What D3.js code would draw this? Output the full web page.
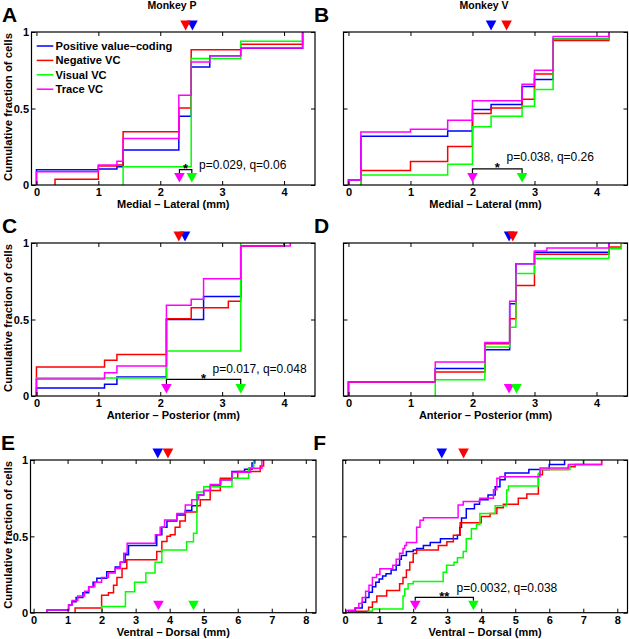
<!DOCTYPE html>
<html><head><meta charset="utf-8">
<script src="https://cdn.jsdelivr.net/npm/d3@7"></script>
<style>
body{margin:0;background:#fff}
svg text{font-family:"Liberation Sans",Arial,Helvetica,sans-serif}
</style>
</head><body>
<svg id="chart" width="629" height="639"></svg>
<script>
// ---------------- data ----------------
const seriesNames = ["Positive value\u2013coding", "Negative VC", "Visual VC", "Trace VC"];
const seriesColors = ["#0000ff", "#ff0000", "#00ff00", "#ff00ff"];

// step CDFs: [position (mm), cumulative fraction after the step]
const A_pos   = [[0,0.1],[1.0,0.105],[1.3,0.12],[1.4,0.228],[2.3,0.45],[2.5,0.772],[2.8,0.845],[3.3,0.893],[4.3,1]];
const A_neg   = [[0.3,0.037],[1.0,0.124],[1.3,0.13],[1.4,0.348],[2.3,0.504],[2.5,0.884],[3.3,0.92],[4.3,1]];
const A_vis   = [[1.4,0.12],[2.5,0.826],[3.3,0.94],[4.3,1]];
const A_trace = [[0,0.087],[1.0,0.13],[1.3,0.155],[1.4,0.304],[2.3,0.587],[2.5,0.804],[2.8,0.845],[3.3,0.896],[4.3,1]];

const B_pos   = [[0,0.033],[0.2,0.318],[1.6,0.353],[2.0,0.493],[2.3,0.526],[2.8,0.643],[3.0,0.69],[3.3,0.954],[4.2,1]];
const B_neg   = [[0.2,0.094],[1.0,0.154],[1.6,0.252],[2.0,0.467],[2.3,0.504],[2.8,0.56],[3.0,0.726],[3.3,0.945],[4.2,1]];
const B_vis   = [[0.2,0.066],[1.6,0.136],[2.0,0.38],[2.3,0.45],[2.8,0.515],[3.0,0.625],[3.3,0.954],[4.2,1]];
const B_trace = [[0,0.033],[0.2,0.346],[1.0,0.364],[1.6,0.423],[2.0,0.55],[2.8,0.658],[3.0,0.75],[3.3,0.971],[4.2,1]];

const C_pos   = [[0,0.052],[1.1,0.076],[1.3,0.124],[2.1,0.5],[2.7,0.65],[3.3,0.98],[4.0,1]];
const C_neg   = [[0,0.19],[1.1,0.233],[1.3,0.272],[2.1,0.505],[2.5,0.577],[3.1,0.62],[3.3,0.98],[4.0,1]];
const C_vis   = [[0,0.118],[2.1,0.294],[3.3,1]];
const C_trace = [[0,0.111],[1.1,0.152],[1.3,0.196],[2.1,0.593],[2.5,0.632],[2.7,0.767],[3.3,0.98],[4.1,1]];

const D_pos   = [[0,0.092],[1.4,0.179],[2.2,0.303],[2.6,0.603],[2.7,0.865],[3.0,0.94],[4.2,1]];
const D_neg   = [[0,0.092],[1.4,0.157],[2.2,0.342],[2.6,0.505],[2.7,0.723],[3.0,0.926],[4.2,0.974],[4.4,1]];
const D_vis   = [[1.4,0.107],[2.2,0.32],[2.6,0.45],[2.7,0.8],[3.0,0.898],[4.2,0.963],[4.4,1]];
const D_trace = [[0,0.092],[1.4,0.222],[2.2,0.349],[2.6,0.62],[2.7,0.865],[3.0,0.948],[3.2,0.967],[4.2,1]];

const E_pos   = [[0.39,0.018],[1.03,0.05],[1.13,0.072],[1.25,0.1],[1.45,0.13],[1.62,0.17],[1.75,0.2],[1.86,0.225],[2.15,0.268],[2.4,0.3],[2.55,0.33],[2.69,0.38],[2.79,0.44],[3.62,0.51],[3.77,0.56],[3.92,0.6],[4.21,0.64],[4.46,0.67],[4.65,0.7],[4.8,0.77],[5.0,0.8],[5.2,0.83],[5.49,0.87],[5.83,0.924],[6.2,0.94],[6.42,0.98],[6.5,1]];
const E_neg   = [[1.22,0.03],[2.0,0.115],[2.2,0.13],[2.35,0.18],[2.45,0.23],[2.6,0.29],[2.74,0.346],[3.62,0.4],[3.77,0.466],[3.92,0.5],[4.02,0.51],[4.16,0.56],[4.3,0.6],[4.46,0.66],[4.8,0.7],[4.9,0.74],[5.19,0.8],[5.49,0.88],[6.0,0.925],[6.66,0.96],[6.76,1]];
const E_vis   = [[2.0,0.04],[2.7,0.137],[2.97,0.2],[3.3,0.26],[3.57,0.33],[3.77,0.41],[4.5,0.465],[4.7,0.52],[4.8,0.79],[5.0,0.825],[5.83,0.88],[6.32,0.95],[6.47,1]];
const E_trace = [[0.39,0.018],[1.03,0.05],[1.13,0.08],[1.3,0.11],[1.5,0.14],[1.62,0.17],[1.8,0.2],[2.0,0.23],[2.2,0.26],[2.4,0.29],[2.55,0.33],[2.65,0.39],[2.75,0.455],[3.58,0.51],[3.72,0.56],[3.85,0.607],[4.21,0.65],[4.46,0.705],[4.65,0.74],[4.85,0.77],[5.0,0.8],[5.19,0.84],[5.5,0.87],[5.83,0.92],[6.37,0.946],[6.71,1]];

const F_pos   = [[0.1,0.014],[0.3,0.03],[0.5,0.068],[0.6,0.1],[0.7,0.134],[0.8,0.17],[0.9,0.2],[1.0,0.22],[1.1,0.24],[1.2,0.255],[1.35,0.28],[1.5,0.31],[1.6,0.35],[1.65,0.375],[1.8,0.4],[2.0,0.41],[2.1,0.42],[2.3,0.44],[2.5,0.46],[2.8,0.485],[3.3,0.507],[3.37,0.56],[3.42,0.62],[3.56,0.68],[3.8,0.71],[3.95,0.74],[4.2,0.77],[4.41,0.825],[4.55,0.87],[4.7,0.915],[5.4,0.937],[6.0,0.97],[6.45,1]];
const F_neg   = [[0.15,0.01],[0.69,0.035],[0.8,0.07],[0.93,0.11],[1.22,0.145],[1.6,0.19],[1.7,0.23],[1.8,0.28],[1.9,0.33],[2.0,0.387],[2.1,0.41],[2.74,0.44],[2.99,0.464],[3.18,0.508],[3.38,0.589],[4.0,0.63],[4.26,0.65],[4.46,0.687],[4.65,0.71],[5.09,0.75],[5.34,0.777],[5.68,0.903],[5.8,0.937],[6.56,0.955],[6.76,0.97],[7.54,1]];
const F_vis   = [[0.68,0.01],[0.8,0.025],[1.7,0.11],[1.75,0.155],[1.85,0.19],[2.0,0.205],[2.88,0.265],[2.98,0.31],[3.2,0.33],[3.3,0.36],[3.47,0.4],[3.56,0.485],[3.71,0.55],[3.86,0.58],[3.96,0.65],[4.41,0.7],[4.75,0.804],[4.8,0.83],[5.68,0.914],[5.73,0.937],[6.61,0.97],[7.0,1]];
const F_trace = [[0.04,0.014],[0.28,0.03],[0.4,0.06],[0.5,0.1],[0.6,0.14],[0.7,0.18],[0.8,0.23],[0.92,0.25],[1.02,0.288],[1.4,0.31],[1.5,0.35],[1.6,0.39],[1.7,0.42],[1.75,0.44],[1.8,0.46],[2.1,0.56],[2.2,0.606],[2.3,0.622],[3.32,0.706],[3.47,0.728],[3.96,0.75],[4.36,0.805],[4.46,0.88],[4.55,0.89],[5.73,0.947],[6.56,0.97],[7.54,1]];

// mean-position markers: [value, series index]
const A_topMarks = [[2.52,0],[2.41,1]];  const A_botMarks = [[2.31,3],[2.51,2]];
const B_topMarks = [[2.30,0],[2.55,1]];  const B_botMarks = [[2.00,3],[2.80,2]];
const C_topMarks = [[2.40,0],[2.30,1]];  const C_botMarks = [[2.10,3],[3.30,2]];
const D_topMarks = [[2.59,0],[2.65,1]];  const D_botMarks = [[2.59,3],[2.71,2]];
const E_topMarks = [[3.65,0],[3.95,1]];  const E_botMarks = [[3.67,3],[4.70,2]];
const F_topMarks = [[2.84,0],[3.48,1]];  const F_botMarks = [[2.06,3],[3.77,2]];

// significance brackets
const statStars = ["*", "*", "*", "**"];
const statTexts = ["p=0.029, q=0.06", "p=0.038, q=0.26", "p=0.017, q=0.048", "p=0.0032, q=0.038"];

const xTicksShort = [0,1,2,3,4];
const xTicksLong  = [0,1,2,3,4,5,6,7,8];
const yTicks = [0, 0.5, 1];
const xLabels = ["Medial \u2013 Lateral (mm)", "Anterior \u2013 Posterior (mm)", "Ventral \u2013 Dorsal (mm)"];
const yLabel = "Cumulative fraction of cells";
const monkeyTitles = ["Monkey P", "Monkey V"];
const panelLetters = ["A","B","C","D","E","F"];

// ---------------- layout ----------------
const FONT = "'Liberation Sans',Arial,Helvetica,sans-serif";
const colL = [31.5, 315], colR = [343.5, 627.5];
const rows = [[32, 185], [243, 396], [460, 612.7]];
const panels = [
  {series:[A_pos,A_neg,A_vis,A_trace], top:A_topMarks, bot:A_botMarks, col:colL, row:rows[0], dom:[-0.08,4.5], ticks:xTicksShort, xl:xLabels[0], left:true, legend:true,
   stat:{i:0, level:0.10, tx:199, ty:168.5}},
  {series:[B_pos,B_neg,B_vis,B_trace], top:B_topMarks, bot:B_botMarks, col:colR, row:rows[0], dom:[-0.08,4.5], ticks:xTicksShort, xl:xLabels[0], left:false,
   stat:{i:1, level:0.105, tx:506.5, ty:161}},
  {series:[C_pos,C_neg,C_vis,C_trace], top:C_topMarks, bot:C_botMarks, col:colL, row:rows[1], dom:[-0.08,4.5], ticks:xTicksShort, xl:xLabels[1], left:true,
   stat:{i:2, level:0.109, tx:212.5, ty:373}},
  {series:[D_pos,D_neg,D_vis,D_trace], top:D_topMarks, bot:D_botMarks, col:colR, row:rows[1], dom:[-0.08,4.5], ticks:xTicksShort, xl:xLabels[1], left:false},
  {series:[E_pos,E_neg,E_vis,E_trace], top:E_topMarks, bot:E_botMarks, col:[30.5,316], row:rows[2], dom:[-0.09,8.3], ticks:xTicksLong, xl:xLabels[2], left:true},
  {series:[F_pos,F_neg,F_vis,F_trace], top:F_topMarks, bot:F_botMarks, col:[342.8,627.5], row:rows[2], dom:[-0.07,8.3], ticks:xTicksLong, xl:xLabels[2], left:false,
   stat:{i:3, level:0.10, tx:456.5, ty:592}}
];

const svg = d3.select("#chart");
svg.append("rect").attr("width",629).attr("height",639).attr("fill","#fff");

function styleAxis(g, showText) {
  g.select(".domain").remove();
  g.selectAll(".tick line").attr("stroke","#000").attr("stroke-width",1);
  g.selectAll(".tick text").attr("fill","#000").attr("font-size","11px").attr("font-weight","bold")
    .attr("font-family", FONT);
  if (!showText) g.selectAll(".tick text").remove();
}
// scale a text's font so that its width matches the reference width
function fitWidth(sel, target, base) {
  const w = sel.node().getComputedTextLength();
  if (w > 0) sel.attr("font-size", (base * target / w).toFixed(2) + "px");
}

panels.forEach((p, pi) => {
  const [x0, x1] = p.col, [y0, y1] = p.row;
  const x = d3.scaleLinear().domain(p.dom).range([x0, x1]);
  const y = d3.scaleLinear().domain([0, 1]).range([y1, y0]);
  const g = svg.append("g");

  // CDF curves
  const line = d3.line().x(d => x(d[0])).y(d => y(d[1])).curve(d3.curveStepAfter);
  p.series.forEach((s, i) => {
    const pts = [[s[0][0], 0]].concat(s);
    g.append("path").attr("d", line(pts)).attr("fill","none")
      .attr("stroke", seriesColors[i]).attr("stroke-width", 1.5);
  });

  // axes (inward ticks on all sides)
  const ax = g.append("g").attr("transform",`translate(0,${y1})`)
    .call(d3.axisBottom(x).tickValues(p.ticks).tickSize(-4).tickPadding(3.5).tickFormat(d3.format("d")));
  styleAxis(ax, true);
  const axT = g.append("g").attr("transform",`translate(0,${y0})`)
    .call(d3.axisTop(x).tickValues(p.ticks).tickSize(-4));
  styleAxis(axT, false);
  const ayL = g.append("g").attr("transform",`translate(${x0},0)`)
    .call(d3.axisLeft(y).tickValues(yTicks).tickSize(-4).tickPadding(2.5).tickFormat(d => d === 0.5 ? "0.5" : d3.format("d")(d)));
  styleAxis(ayL, p.left);
  ayL.selectAll(".tick text").attr("dy","0.35em");
  const ayR = g.append("g").attr("transform",`translate(${x1},0)`)
    .call(d3.axisRight(y).tickValues(yTicks).tickSize(-4));
  styleAxis(ayR, false);

  g.append("rect").attr("x", x0).attr("y", y0).attr("width", x1 - x0).attr("height", y1 - y0)
    .attr("fill","none").attr("stroke","#000").attr("stroke-width",1.2);

  // x label
  const xlt = g.append("text").attr("x", (x0 + x1) / 2).attr("y", y1 + 23).attr("text-anchor","middle")
    .attr("font-family", FONT).attr("font-size","11px").attr("font-weight","bold").text(p.xl);
  // y label
  if (p.left) {
    const cy = (y0 + y1) / 2 - 1.5;
    const ylt = g.append("text").attr("transform",`translate(11.5,${cy}) rotate(-90)`).attr("text-anchor","middle")
      .attr("font-family", FONT).attr("font-size","11.3px").attr("font-weight","bold").text(yLabel);
    fitWidth(ylt, 148, 11.3);
  }
  // panel letter
  g.append("text").attr("x", x0 - 29.5).attr("y", y0 - 10.3).attr("font-family", FONT).attr("font-size","21px").attr("font-weight","bold")
    .text(panelLetters[pi]);

  // triangles
  const hw = 5.3;
  p.top.forEach(([v, si]) => {
    const cx = x(v), tip = y0 - 1.5, base = y0 - 11.5;
    g.append("path").attr("d", `M${cx - hw},${base}L${cx + hw},${base}L${cx},${tip}Z`).attr("fill", seriesColors[si]);
  });
  // bracket (behind bottom triangles)
  if (p.stat) {
    const xa = x(p.bot[0][0]), xb = x(p.bot[1][0]), yb = y(p.stat.level), ye = y1 - 12;
    g.append("path").attr("d", `M${xa},${ye}L${xa},${yb}L${xb},${yb}L${xb},${ye}`)
      .attr("fill","none").attr("stroke","#000").attr("stroke-width",1.2);
    g.append("text").attr("x", (xa + xb) / 2).attr("y", yb + 3.5).attr("text-anchor","middle")
      .attr("font-family", FONT).attr("font-size","13px").attr("font-weight","bold").text(statStars[p.stat.i]);
    g.append("text").attr("x", p.stat.tx).attr("y", p.stat.ty).attr("font-family", FONT).attr("font-size","12px").text(statTexts[p.stat.i]);
  }
  p.bot.forEach(([v, si]) => {
    const cx = x(v), tip = y1 - 2.5, base = y1 - 12;
    g.append("path").attr("d", `M${cx - hw},${base}L${cx + hw},${base}L${cx},${tip}Z`).attr("fill", seriesColors[si]);
  });

  // legend
  if (p.legend) {
    const lg = g.append("g");
    const texts = [];
    seriesNames.forEach((n, i) => {
      const ry = 46 + i * 14.4;
      lg.append("line").attr("x1", 36.7).attr("x2", 53.3).attr("y1", ry).attr("y2", ry)
        .attr("stroke", seriesColors[i]).attr("stroke-width", 1.5);
      texts.push(lg.append("text").attr("x", 55.5).attr("y", ry + 4).attr("font-family", FONT)
        .attr("font-size","11px").attr("font-weight","bold").text(n));
    });
    const w0 = texts[0].node().getComputedTextLength();
    if (w0 > 0) { const fs = (11 * 117 / w0).toFixed(2) + "px"; texts.forEach(t => t.attr("font-size", fs)); }
  }
});

// monkey titles
svg.append("text").attr("x", 172).attr("y", 8.5).attr("text-anchor","middle").attr("font-family", FONT).attr("font-size","10.5px").attr("font-weight","bold").text(monkeyTitles[0]);
svg.append("text").attr("x", 484).attr("y", 8.5).attr("text-anchor","middle").attr("font-family", FONT).attr("font-size","10.5px").attr("font-weight","bold").text(monkeyTitles[1]);
</script>
</body></html>
